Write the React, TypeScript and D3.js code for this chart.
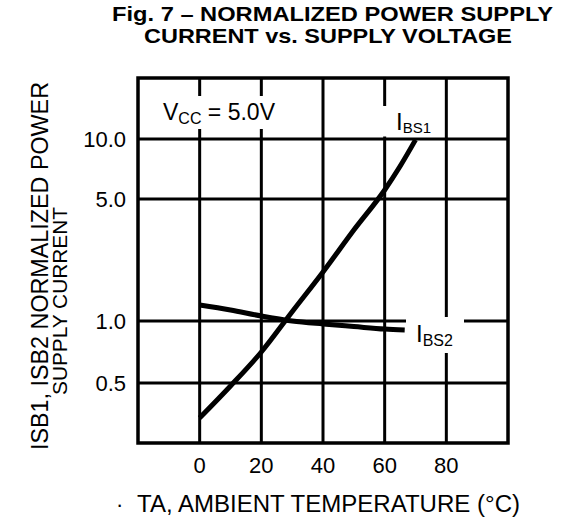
import * as d3 from "d3";

// I_BS1 and I_BS2 (normalized) vs ambient temperature
const ibs1Temp = [0, 10, 20, 30, 40, 50, 60, 65, 70];
const ibs1Value = [0.334, 0.483, 0.707, 1.13, 1.91, 3.32, 5.55, 7.3, 9.9];
const ibs2Temp = [0, 10, 20, 30, 40, 50, 60, 66.5];
const ibs2Value = [1.235, 1.156, 1.068, 1.0, 0.967, 0.94, 0.914, 0.905];

const xTicks = [0, 20, 40, 60, 80];
const yTicks = [10, 5, 1, 0.5];
const yTickLabels = ["10.0", "5.0", "1.0", "0.5"];

const W = 563;
const H = 521;
const FONT = "'Liberation Sans', Arial, Helvetica, sans-serif";

type Pt = { t: number; v: number };

export default function App() {
  const x = d3.scaleLinear().domain([-20, 100]).range([138, 508]);
  // the printed grid is not a true log scale: piecewise log between the gridlines
  const y = d3
    .scaleLog()
    .domain([0.25, 0.5, 1, 5, 10, 20])
    .range([443, 383, 321, 199, 139, 78]);

  const [x0, x1] = x.range();
  const y0 = y(0.25);
  const y1 = y(20);

  const line = d3
    .line<Pt>()
    .x((d) => x(d.t))
    .y((d) => y(d.v))
    .curve(d3.curveMonotoneX);

  const s1: Pt[] = ibs1Temp.map((t, i) => ({ t, v: ibs1Value[i] }));
  const s2: Pt[] = ibs2Temp.map((t, i) => ({ t, v: ibs2Value[i] }));

  return (
    <svg
      width={W}
      height={H}
      style={{ position: "absolute", left: 0, top: 0, background: "#fff" }}
      fontFamily={FONT}
    >
      {/* title */}
      <text x={112} y={21} fontSize={21} fontWeight="bold" textLength={441} lengthAdjust="spacingAndGlyphs">
        Fig. 7 –  NORMALIZED POWER SUPPLY
      </text>
      <text x={144} y={43} fontSize={21} fontWeight="bold" textLength={368} lengthAdjust="spacingAndGlyphs">
        CURRENT vs. SUPPLY VOLTAGE
      </text>

      {/* grid */}
      <g stroke="#000" strokeWidth={3}>
        {xTicks.map((t) => (
          <line key={"vx" + t} x1={x(t)} x2={x(t)} y1={y0} y2={y1} />
        ))}
        {yTicks.map((v) => (
          <line key={"hy" + v} x1={x0} x2={x1} y1={y(v)} y2={y(v)} />
        ))}
      </g>

      {/* gaps in the grid behind the labels */}
      <g fill="#fff">
        <rect x={146} y={96} width={140} height={33} />
        <rect x={380} y={106} width={60} height={30.5} />
        <rect x={406} y={317} width={58} height={36} />
      </g>

      <rect x={x0} y={y1} width={x1 - x0} height={y0 - y1} fill="none" stroke="#000" strokeWidth={3.5} />

      {/* curves */}
      <path d={line(s1) || ""} fill="none" stroke="#000" strokeWidth={5} />
      <path d={line(s2) || ""} fill="none" stroke="#000" strokeWidth={5} />

      {/* in-plot labels */}
      <text x={163} y={120} fontSize={23}>
        V<tspan fontSize={16} dy={4}>CC</tspan>
        <tspan dy={-4}> = 5.0V</tspan>
      </text>
      <text x={396} y={130} fontSize={24}>
        I<tspan fontSize={15} dy={3}>BS1</tspan>
      </text>
      <text x={416} y={342} fontSize={24}>
        I<tspan fontSize={16} dy={4}>BS2</tspan>
      </text>

      {/* y tick labels */}
      {yTicks.map((v, i) => (
        <text key={"yl" + v} x={126} y={y(v) + 8} fontSize={22} textAnchor="end">
          {yTickLabels[i]}
        </text>
      ))}

      {/* x tick labels */}
      {xTicks.map((t) => (
        <text key={"xl" + t} x={x(t)} y={473} fontSize={22} textAnchor="middle">
          {t}
        </text>
      ))}

      {/* axis titles */}
      <text x={116} y={512} fontSize={22}>·</text>
      <text x={137} y={512} fontSize={23} textLength={383} lengthAdjust="spacingAndGlyphs">
        TA, AMBIENT TEMPERATURE (°C)
      </text>
      <text
        transform="translate(48,266) rotate(-90)"
        fontSize={23}
        textAnchor="middle"
        textLength={368}
        lengthAdjust="spacingAndGlyphs"
      >
        ISB1, ISB2 NORMALIZED POWER
      </text>
      <text
        transform="translate(67,301) rotate(-90)"
        fontSize={21}
        textAnchor="middle"
        textLength={188}
        lengthAdjust="spacingAndGlyphs"
      >
        SUPPLY CURRENT
      </text>
    </svg>
  );
}
